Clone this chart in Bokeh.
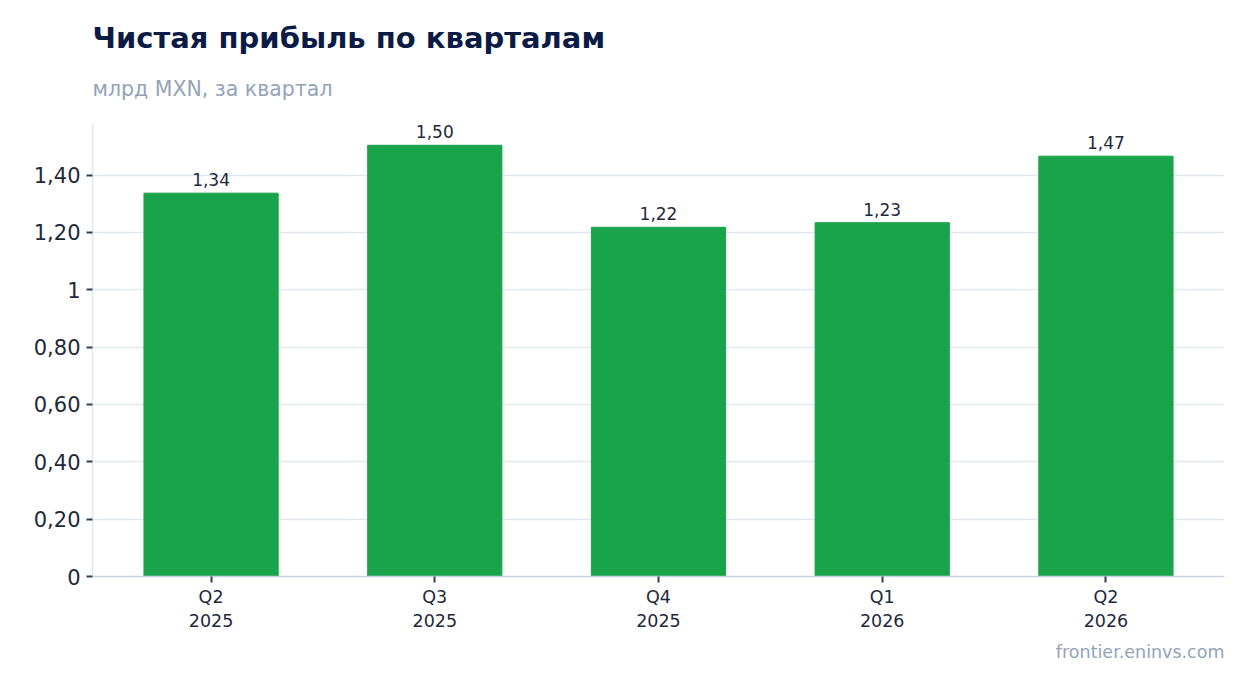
from bokeh.plotting import figure
from bokeh.models import ColumnDataSource, FactorRange, Range1d, FixedTicker, CustomJSTickFormatter, Title
from bokeh.core.properties import value
from bokeh.embed import file_html
from bokeh.resources import INLINE

# data
quarters = ["Q2\n2025", "Q3\n2025", "Q4\n2025", "Q1\n2026", "Q2\n2026"]
profit = [1.337, 1.504, 1.218, 1.234, 1.466]
y_ticks = [0, 0.2, 0.4, 0.6, 0.8, 1.0, 1.2, 1.4]

FONT = "DejaVu Sans"
labels = [("%.2f" % v).replace(".", ",") for v in profit]
source = ColumnDataSource(data=dict(q=quarters, v=profit, lbl=labels))

p = figure(x_range=FactorRange(factors=quarters, range_padding=0.012),
           y_range=Range1d(0, 1.58),
           width=1246, height=685, output_backend="svg", toolbar_location=None,
           min_border_left=92, min_border_right=22, min_border_top=123, min_border_bottom=109)

p.vbar(x="q", top="v", width=0.6, source=source, color="#19a34a")
p.text(x="q", y="v", text="lbl", source=source, text_align="center", text_baseline="bottom",
       y_offset=-7, text_font=value(FONT), text_font_size="17px", text_color="#1e293b")

# axes
p.outline_line_color = None
p.xgrid.grid_line_color = None
p.ygrid.grid_line_color = "#e2e8f0"
p.ygrid.grid_line_width = 1.5
p.yaxis.ticker = FixedTicker(ticks=y_ticks)
p.yaxis.formatter = CustomJSTickFormatter(code="""
    if (Math.abs(tick - Math.round(tick)) < 1e-9) return String(Math.round(tick));
    return tick.toFixed(2).replace('.', ',');
""")
p.yaxis.minor_tick_line_color = None
p.axis.major_tick_in = 0
p.axis.major_tick_out = 6
p.axis.major_tick_line_color = "#334155"
p.axis.major_tick_line_width = 2
p.yaxis.axis_line_color = "#e2e8f0"
p.xaxis.axis_line_color = "#cbd5e1"
p.axis.axis_line_width = 1.5
p.yaxis.major_label_text_font_size = "21px"
p.xaxis.major_label_text_font_size = "17.5px"
p.axis.major_label_text_font = FONT
p.axis.major_label_text_color = "#1e293b"
p.yaxis.major_label_standoff = 6
p.xaxis.major_label_standoff = 4

# titles and footer
p.add_layout(Title(text="млрд MXN, за квартал", text_font=FONT, text_font_size="20.5px",
                   text_font_style="normal", text_color="#94a3b8", align="left", standoff=45), "above")
p.add_layout(Title(text="Чистая прибыль по кварталам", text_font=FONT, text_font_size="29px",
                   text_font_style="bold", text_color="#0b1b45", align="left", standoff=-5), "above")
p.add_layout(Title(text="frontier.eninvs.com", text_font=FONT, text_font_size="17.5px",
                   text_font_style="normal", text_color="#94a3b8", align="right", standoff=13), "below")

open("out.html", "w").write(file_html(p, INLINE))
